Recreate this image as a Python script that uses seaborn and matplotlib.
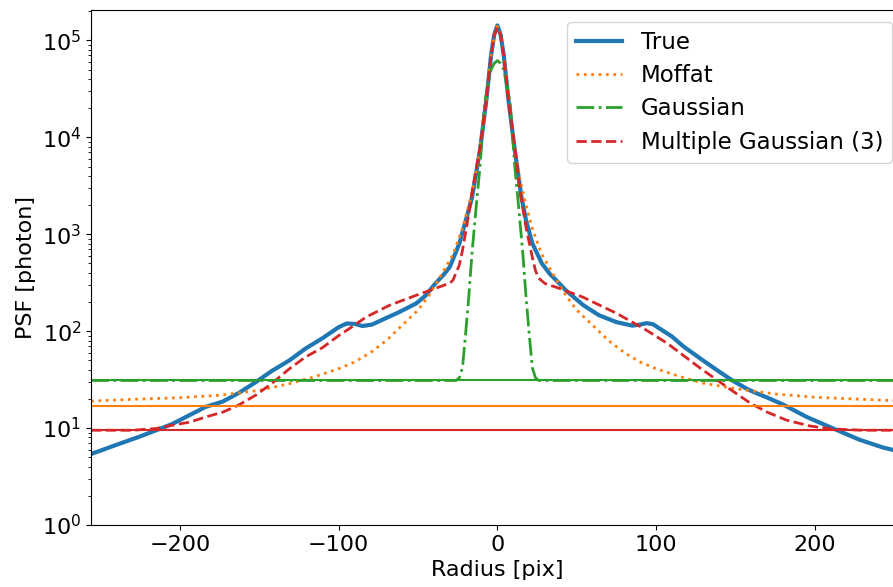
import numpy as np
import pandas as pd
import seaborn as sns
import matplotlib
matplotlib.use("Agg")
import matplotlib.pyplot as plt

# values (radius in pix, PSF in photon)
r_true = [-256, -237, -226, -215, -205, -194, -184, -173, -163, -152, -142, -131,
          -121, -110, -100, -95, -90, -85, -79, -73, -62, -51, -45, -39, -34, -30,
          -24, -18, -16, -11, -7, -4, -2, 0, 2, 4, 7, 11, 15, 18, 22, 28, 33, 37,
          43, 54, 64, 75, 85, 90, 94, 98, 102, 110, 117, 128, 138, 148, 158, 163,
          172, 180, 195, 211, 228, 243, 256]
psf_true = [5.4, 7.0, 8.1, 9.5, 11.0, 13.6, 16.5, 18.8, 23, 30, 39, 50,
            66, 85, 110, 120, 119, 113, 117, 130, 157, 194, 235, 312, 380, 460,
            800, 1800, 2400, 7300, 24000, 70000, 115000, 143000, 115000, 70000, 24000, 7300, 2500, 1400, 807, 500, 390, 336,
            265, 186, 146, 124, 114, 117, 121, 118, 107, 88, 70, 52, 40, 31, 25, 23,
            20, 17.5, 13, 10, 7.6, 6.3, 5.6]

r_moffat = [-256, -230, -200, -175, -150, -130, -115, -100, -90, -80, -70, -60, -50,
            -43, -35, -28, -22, -18, -14, -11, -7, -4, -2, 0, 2, 4, 7, 11, 14, 18,
            22, 28, 35, 43, 50, 60, 70, 80, 90, 100, 115, 130, 150, 175, 200, 230, 256]
psf_moffat = [19, 19.8, 20.6, 21.8, 24.5, 29, 34, 41, 48, 60, 80, 115, 165,
              235, 390, 620, 1150, 2000, 3800, 7500, 25000, 70000, 115000, 140000, 115000, 70000, 25000, 7500, 3800, 2000,
              1150, 620, 390, 235, 165, 115, 80, 60, 48, 41, 34, 29, 25.5, 22.5, 20.8, 19.8, 19]

r_gauss = [-256, -26, -24, -22, -20, -18, -16, -13, -11, -8, -4, -2, 0,
           2, 4, 8, 11, 13, 16, 18, 20, 22, 24, 26, 256]
psf_gauss = [31, 31, 33, 42, 95, 230, 640, 2240, 4900, 23000, 50000, 58000, 62000,
             58000, 50000, 23000, 4900, 2240, 640, 230, 95, 42, 33, 31, 31]

r_multi = [-256, -230, -215, -205, -194, -184, -173, -163, -152, -142, -131, -121,
           -110, -100, -93, -83, -68, -51, -39, -30, -28, -24, -22, -19, -16, -11,
           -7, -4, -2, 0, 2, 4, 7, 11, 14, 18, 22, 24, 26, 30, 37, 54, 75, 92, 107,
           127, 140, 150, 160, 170, 182, 197, 211, 230, 256]
psf_multi = [9.5, 9.5, 9.9, 10.7, 11.5, 13, 14.6, 17.3, 22, 29, 41, 54,
             68, 90, 107, 139, 185, 235, 277, 313, 336, 480, 684, 1300, 2700, 7800,
             24000, 70000, 113000, 135000, 113000, 70000, 24000, 7800, 3000, 1180, 580, 420, 352, 310, 284, 224, 153, 107, 75,
             42.5, 30, 23, 17.8, 14.6, 12.1, 10.5, 9.8, 9.5, 9.5]

# fitted background levels
bg_levels = [31, 17, 9.5]
bg_colors = ['C2', 'C1', 'C3']

fig = plt.figure(figsize=(8.93, 5.87), dpi=100)
ax = fig.add_axes([0.102, 0.1056, 0.91, 0.877])

sns.lineplot(x=r_true, y=psf_true, ax=ax, color='C0', lw=3, label='True')
sns.lineplot(x=r_moffat, y=psf_moffat, ax=ax, color='C1', lw=2, linestyle=':', label='Moffat')
sns.lineplot(x=r_gauss, y=psf_gauss, ax=ax, color='C2', lw=2, linestyle='-.', label='Gaussian')
sns.lineplot(x=r_multi, y=psf_multi, ax=ax, color='C3', lw=2, linestyle='--', label='Multiple Gaussian (3)')

for level, c in zip(bg_levels, bg_colors):
    ax.axhline(level, color=c, lw=1.5)

ax.set_yscale('log')
ax.set_xlim(-256, 256)
ax.set_ylim(1, 2.05e5)
ax.set_xlabel('Radius [pix]', fontsize=16)
ax.set_ylabel('PSF [photon]', fontsize=16)
ax.tick_params(labelsize=16)
ax.legend(loc='upper right', fontsize=16.5, labelspacing=0.45)

plt.savefig('out.png', dpi=100)
plt.close()
